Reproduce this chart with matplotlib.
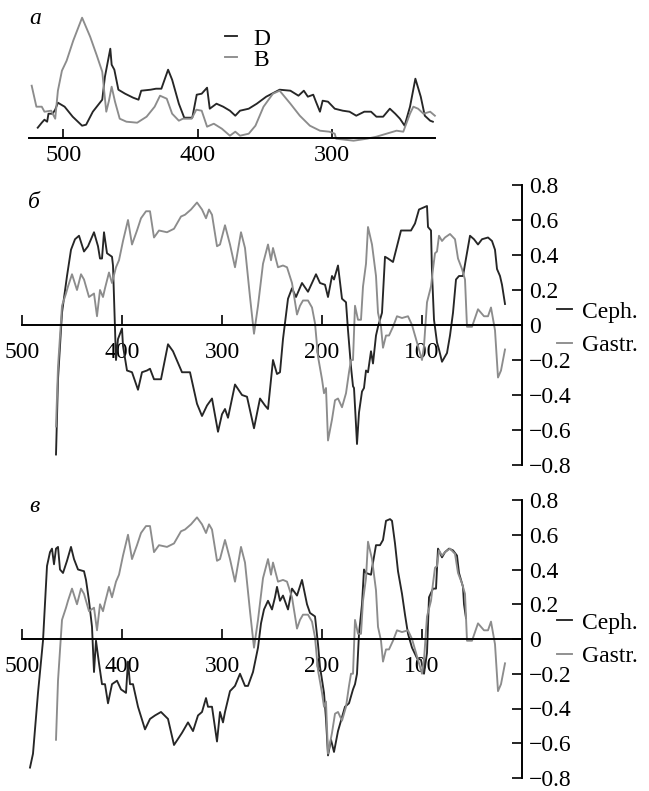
import matplotlib
matplotlib.use("Agg")
import matplotlib.pyplot as plt

plt.rcParams['font.family'] = ['Liberation Serif', 'DejaVu Serif']
plt.rcParams['axes.unicode_minus'] = True

# ---------------- data ----------------
# panel a
a_ticks = [500, 400, 300]
d_x = [519, 516, 514, 512, 511, 508, 506, 504, 499, 493, 486, 483, 478, 471, 469, 465, 464, 462, 459, 454,
       448, 444, 442, 435, 431, 427, 422, 419, 414, 410, 404, 400.7, 397, 393, 391, 386, 381, 376, 372, 368.5,
       362, 356, 349, 339, 331, 325, 321, 318, 314, 312, 309, 307, 303, 298, 292, 287, 282, 276, 271, 267,
       262, 257, 253, 249.5, 246, 242, 238, 234, 231, 227, 225]
d_y = [.10, .15, .18, .16, .24, .24, .28, .35, .31, .21, .12, .13, .26, .38, .61, .89, .73, .68, .48, .44,
       .40, .38, .47, .48, .49, .49, .68, .58, .34, .20, .20, .43, .44, .50, .29, .34, .31, .27, .22, .27,
       .29, .34, .41, .48, .47, .42, .47, .41, .43, .36, .26, .37, .36, .29, .27, .26, .22, .26, .26, .21,
       .21, .29, .24, .19, .12, .31, .59, .41, .22, .17, .16]
b_x = [523.5, 520, 516, 514, 509, 506, 504, 501, 497.5, 492.6, 486, 480, 475, 471, 468, 466, 464, 461.5, 458, 453,
       445, 438, 432, 428, 423, 419, 414, 411, 404.5, 401, 397, 393, 388, 382, 376, 372, 368.5, 362, 357, 351,
       344, 339, 331, 324, 316.5, 309, 302, 298, 297, 284, 274, 267, 259.5, 252, 247, 242, 239.5, 236, 232, 227,
       223.5]
b_y = [.52, .31, .31, .26, .27, .19, .47, .67, .77, .97, 1.20, 1.01, .82, .66, .26, .37, .51, .36, .19, .16,
       .15, .21, .31, .42, .39, .24, .17, .19, .19, .28, .27, .11, .14, .09, .02, .06, .02, .04, .12, .31,
       .44, .47, .34, .22, .12, .07, .06, .04, -.01, -.03, -.01, .01, .04, .07, .06, .24, .31, .29, .24, .26,
       .22]

# panels б and в
x_ticks = [500, 400, 300, 200, 100]
y_ticks = [-0.8, -0.6, -0.4, -0.2, 0, 0.2, 0.4, 0.6, 0.8]
y_labels = ['\u22120.8', '\u22120.6', '\u22120.4', '\u22120.2', '0', '0.2', '0.4', '0.6', '0.8']

cb_x = [466, 464, 460, 455, 451, 447, 443, 438, 434, 428, 424, 422, 420, 418, 415, 410, 409, 406, 404, 400,
        399, 395, 390, 384, 380, 375, 372, 368, 361, 354, 349, 340, 332, 325, 320, 315, 310, 304, 300, 297,
        294, 287, 280, 275, 268, 262, 257, 254, 249, 245, 242, 239, 234, 230, 226, 220, 214, 206, 202, 197,
        194, 190, 188, 184, 180, 176, 174, 171, 169, 168, 166, 165, 163, 160, 158, 156, 154, 151, 149, 146,
        144, 140, 137, 134, 129, 125, 121, 117, 111, 107, 103, 99, 95, 94, 91, 90, 88, 85, 83, 80,
        75, 72, 69, 66, 63, 59, 56, 52, 48, 44, 40, 34, 30, 27, 25, 22, 20, 17]
cb_y = [-.74, -.31, .07, .28, .43, .49, .51, .42, .45, .53, .45, .38, .38, .53, .41, .39, .34, -.20, -.08, -.02,
        -.12, -.26, -.27, -.37, -.27, -.26, -.25, -.31, -.31, -.11, -.15, -.27, -.27, -.45, -.52, -.46, -.42, -.61, -.51, -.48,
        -.53, -.34, -.40, -.41, -.59, -.42, -.46, -.48, -.20, -.28, -.27, -.08, .15, .21, .16, .24, .19, .29, .24, .23,
        .16, .28, .26, .34, .15, .13, -.03, -.24, -.35, -.36, -.57, -.68, -.50, -.38, -.36, -.26, -.27, -.15, -.22, -.06,
        -.01, .07, .39, .38, .36, .45, .54, .54, .54, .58, .66, .67, .68, .56, .54, .30, .03, -.10, -.14, -.21,
        -.16, -.06, .07, .26, .28, .28, .38, .51, .49, .46, .49, .50, .48, .43, .32, .28, .23, .12]

g_x = [466, 464, 460, 456, 454, 450, 445, 441, 438, 433, 428, 425, 422, 419, 417, 413, 410, 406, 403, 399,
       394, 390, 385, 381, 376, 372, 368, 363, 355, 348, 341, 337, 331, 325, 320, 316, 313, 310, 305, 302,
       297, 292, 287, 281, 277, 272, 268, 264, 259, 254, 251, 249, 244, 239, 235, 230, 225, 222, 219, 214,
       210, 207, 204, 200, 198, 196, 194, 190, 187, 184, 180, 176, 173, 171, 169, 167, 164, 161, 159, 156,
       154, 150, 146, 144, 141, 139, 136, 133, 129, 125, 120, 114, 110, 105, 100, 98, 95, 91, 89, 87,
       85, 83, 80, 77, 72, 67, 64, 60, 57, 55, 50, 44, 38, 34, 31, 27, 24, 21, 17]
g_y = [-.58, -.24, .11, .18, .22, .29, .20, .29, .26, .16, .18, .05, .20, .16, .21, .30, .24, .33, .37, .48,
       .60, .46, .54, .61, .65, .65, .50, .54, .53, .55, .62, .63, .66, .70, .66, .61, .66, .63, .45, .46,
       .57, .46, .33, .53, .44, .16, -.05, .11, .35, .46, .37, .44, .33, .34, .33, .24, .06, .11, .14, .14,
       .10, .01, -.18, -.31, -.39, -.36, -.66, -.54, -.43, -.42, -.47, -.39, -.27, -.20, -.20, .11, .03, .03, .22, .35,
       .56, .46, .28, .07, -.01, -.13, -.06, -.06, -.01, .05, .04, .05, .00, -.10, -.20, -.12, .13, .22, .32, .41,
       .42, .51, .48, .50, .52, .49, .38, .32, .26, -.01, -.01, .09, .05, .05, .10, -.03, -.30, -.26, -.14]

cv_x = [492, 489, 484, 479, 475, 472, 470, 468, 466, 464, 462, 459, 455, 451, 448, 444, 438, 436, 433, 430,
        428, 426, 423, 420, 417, 414, 410, 405, 401, 396, 394, 392, 389, 384, 377, 372, 367, 361, 354, 348,
        340, 334, 329, 324, 320, 316, 314, 310, 305, 302, 299, 297, 292, 287, 282, 277, 274, 269, 264, 261,
        258, 254, 250, 247, 245, 242, 239, 234, 230, 225, 220, 215, 212, 207, 204, 202, 198, 196, 194, 191,
        188, 184, 180, 177, 173, 169, 167, 165, 163, 160, 158, 156, 151, 149, 146, 142, 139, 136, 132, 130,
        127, 124, 120, 117, 114, 110, 105, 101, 98, 95, 93, 89, 86, 84, 80, 77, 73, 69, 65, 63,
        59, 58, 56]
cv_y = [-.74, -.66, -.31, -.01, .42, .50, .52, .43, .52, .53, .40, .38, .45, .53, .46, .40, .39, .34, .22, .07,
        -.19, -.01, -.14, -.26, -.26, -.37, -.26, -.24, -.29, -.31, -.13, -.26, -.26, -.39, -.52, -.46, -.44, -.42, -.46, -.61,
        -.54, -.48, -.53, -.44, -.42, -.34, -.39, -.39, -.59, -.42, -.48, -.42, -.30, -.27, -.20, -.27, -.27, -.19, -.05, .09,
        .17, .22, .17, .24, .30, .22, .25, .17, .29, .25, .34, .20, .15, .13, -.03, -.16, -.31, -.46, -.67, -.58,
        -.65, -.53, -.45, -.39, -.37, -.29, -.26, -.20, .03, .20, .40, .38, .37, .44, .54, .54, .57, .68, .69, .68,
        .55, .39, .26, .14, .03, -.05, -.11, -.12, -.20, -.08, .24, .29, .29, .52, .47, .50, .52, .51, .48, .38,
        .30, .20, .12]

# ---------------- style ----------------
W, H = 649, 791
DARK = '#262626'
GRAY = '#8c8c8c'
LW = 1.35
FS = 17

fig = plt.figure(figsize=(W / 100, H / 100), dpi=100)


def px_axes(left, top, right, bottom):
    return fig.add_axes([left / W, 1 - bottom / H, (right - left) / W, (bottom - top) / H])


# ---------------- panel a ----------------
axa = px_axes(29, 10, 435, 142.7)
axa.plot(d_x, d_y, color=DARK, lw=LW, label='D', clip_on=False)
axa.plot(b_x, b_y, color=GRAY, lw=LW, label='B', clip_on=False)
axa.set_xlim(525.5, 223.4)
axa.set_ylim(-0.05, 1.277)
for s in ['left', 'right', 'top']:
    axa.spines[s].set_visible(False)
axa.spines['bottom'].set_position(('data', 0))
axa.spines['bottom'].set_linewidth(1.4)
axa.set_yticks([])
axa.set_xticks(a_ticks)
axa.set_xticklabels([str(t) for t in a_ticks])
axa.tick_params(axis='x', direction='in', length=6.5, width=1.2, pad=5.5, labelsize=17.5)
axa.patch.set_alpha(0)
axa.legend(loc='upper left', bbox_to_anchor=(225 / W, 1 - 28 / H), bbox_transform=fig.transFigure,
           frameon=False, borderpad=0, borderaxespad=0, handlelength=0.5, handletextpad=0.7,
           labelspacing=-0.02, fontsize=17)


def corr_panel(ax, ceph_x, ceph_y, leg_top):
    ax.plot(ceph_x, ceph_y, color=DARK, lw=LW, label='Ceph.')
    ax.plot(g_x, g_y, color=GRAY, lw=LW, label='Gastr.')
    ax.set_xlim(500, 0)
    ax.set_ylim(-0.8, 0.8)
    ax.spines['left'].set_visible(False)
    ax.spines['top'].set_visible(False)
    ax.spines['bottom'].set_position(('data', 0))
    ax.spines['bottom'].set_linewidth(1.4)
    ax.spines['right'].set_linewidth(1.4)
    ax.yaxis.tick_right()
    ax.set_yticks(y_ticks)
    ax.set_yticklabels(y_labels)
    ax.set_xticks(x_ticks)
    ax.set_xticklabels([str(t) for t in x_ticks])
    ax.tick_params(axis='y', direction='in', length=7, width=1.2, pad=5, labelsize=FS)
    ax.tick_params(axis='x', direction='in', length=7, width=1.2, pad=12.5, labelsize=FS)
    ax.patch.set_alpha(0)
    ax.legend(loc='upper left', bbox_to_anchor=(557 / W, 1 - leg_top / H), bbox_transform=fig.transFigure,
              frameon=False, borderpad=0, borderaxespad=0, handlelength=0.62, handletextpad=0.42,
              labelspacing=0.5, fontsize=FS)


axb = px_axes(22, 185, 522, 465)
corr_panel(axb, cb_x, cb_y, 301)
axc = px_axes(22, 500, 522, 778)
corr_panel(axc, cv_x, cv_y, 612)

fig.text(35 / W, 1 - 18 / H, '\u0430', style='italic', ha='center', va='center', fontsize=17)
fig.text(34 / W, 1 - 202 / H, '\u0431', style='italic', ha='center', va='center', fontsize=17)
fig.text(34 / W, 1 - 507 / H, '\u0432', style='italic', ha='center', va='center', fontsize=17)

fig.savefig('out.png', dpi=100)
